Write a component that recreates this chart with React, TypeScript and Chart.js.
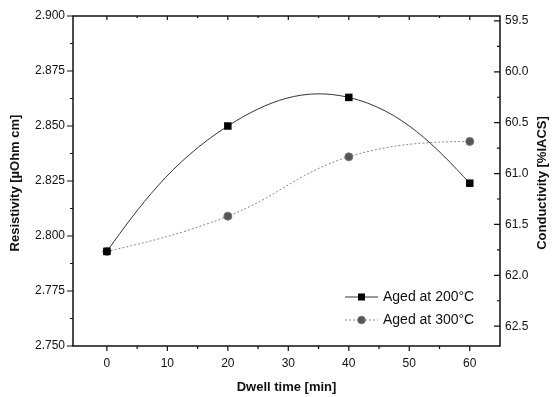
import React, { useEffect, useRef } from "react";
import { Chart, registerables } from "chart.js";

Chart.register(...registerables);

// ---- data ----
const dwellTimes = [0, 20, 40, 60];
const resistivity200 = [2.793, 2.85, 2.863, 2.824];
const resistivity300 = [2.793, 2.809, 2.836, 2.843];
const seriesLabels = ["Aged at 200°C", "Aged at 300°C"];

const xTicks = [0, 10, 20, 30, 40, 50, 60];
const xMinorTicks = [5, 15, 25, 35, 45, 55];
const resTicks = [2.75, 2.775, 2.8, 2.825, 2.85, 2.875, 2.9];
const resMinorTicks = [2.7625, 2.7875, 2.8125, 2.8375, 2.8625, 2.8875];
const condTicks = [59.5, 60.0, 60.5, 61.0, 61.5, 62.0, 62.5];
const condMinorTicks = [59.75, 60.25, 60.75, 61.25, 61.75, 62.25];

const xTitle = "Dwell time [min]";
const yTitle = "Resistivity [µOhm cm]";
const y2Title = "Conductivity [%IACS]";

const FONT = "Arial, 'Liberation Sans', sans-serif";

// make the spline ends "natural" (not flat) like the original plotting software
const splineEndsPlugin = {
  id: "splineEnds",
  beforeDatasetDraw(chart: any, args: any) {
    const meta = args.meta;
    const line = meta.dataset;
    if (!line || !meta.data || meta.data.length < 3) return;
    if (line.updateControlPoints) line.updateControlPoints(chart.chartArea, "x");
    if (line._endsFixed) return;
    const pts = meta.data;
    const p0 = pts[0];
    const p1 = pts[1];
    p0.cp2x = p0.x + 0.5 * (p1.cp1x - p0.x);
    p0.cp2y = p0.y + 0.5 * (p1.cp1y - p0.y);
    const n = pts.length - 1;
    const pn = pts[n];
    const pm = pts[n - 1];
    pn.cp1x = pn.x + 0.5 * (pm.cp2x - pn.x);
    pn.cp1y = pn.y + 0.5 * (pm.cp2y - pn.y);
    line._endsFixed = true;
  },
  afterUpdate(chart: any) {
    chart.data.datasets.forEach((_: any, i: number) => {
      const m = chart.getDatasetMeta(i);
      if (m.dataset) m.dataset._endsFixed = false;
    });
  },
};

const framePlugin = {
  id: "frame",
  afterDraw(chart: any) {
    const ctx = chart.ctx;
    const { left, right, top, bottom } = chart.chartArea;
    const xs = chart.scales.x;
    const ys = chart.scales.y;
    const y2s = chart.scales.y2;
    ctx.save();
    ctx.strokeStyle = "#111";
    ctx.lineWidth = 1.5;
    ctx.strokeRect(left, top, right - left, bottom - top);

    ctx.lineWidth = 1.2;
    ctx.beginPath();
    xTicks.forEach((v) => {
      const p = xs.getPixelForValue(v);
      ctx.moveTo(p, bottom);
      ctx.lineTo(p, bottom + 5);
      ctx.moveTo(p, top);
      ctx.lineTo(p, top + 4);
    });
    xMinorTicks.forEach((v) => {
      const p = xs.getPixelForValue(v);
      ctx.moveTo(p, bottom);
      ctx.lineTo(p, bottom + 3);
      ctx.moveTo(p, top);
      ctx.lineTo(p, top + 2);
    });
    resTicks.forEach((v) => {
      const p = ys.getPixelForValue(v);
      ctx.moveTo(left, p);
      ctx.lineTo(left - 6, p);
    });
    resMinorTicks.forEach((v) => {
      const p = ys.getPixelForValue(v);
      ctx.moveTo(left, p);
      ctx.lineTo(left - 3, p);
    });
    condTicks.forEach((v) => {
      const p = y2s.getPixelForValue(v);
      ctx.moveTo(right, p);
      ctx.lineTo(right - 6, p);
    });
    condMinorTicks.forEach((v) => {
      const p = y2s.getPixelForValue(v);
      ctx.moveTo(right, p);
      ctx.lineTo(right - 3, p);
    });
    ctx.stroke();

    ctx.fillStyle = "#111";
    ctx.font = `bold 13px ${FONT}`;
    ctx.textAlign = "center";
    ctx.textBaseline = "middle";
    ctx.fillText(xTitle, (left + right) / 2, 387);
    const midY = (top + bottom) / 2 + 2;
    ctx.save();
    ctx.translate(15, midY);
    ctx.rotate(-Math.PI / 2);
    ctx.fillText(yTitle, 0, 0);
    ctx.restore();
    ctx.save();
    ctx.translate(542, midY);
    ctx.rotate(-Math.PI / 2);
    ctx.fillText(y2Title, 0, 0);
    ctx.restore();

    const rows = [
      { label: seriesLabels[0], ds: chart.data.datasets[0], y: 297 },
      { label: seriesLabels[1], ds: chart.data.datasets[1], y: 320 },
    ];
    const lx0 = 345;
    const lx1 = 378;
    rows.forEach((r) => {
      ctx.save();
      ctx.strokeStyle = r.ds.borderColor;
      ctx.lineWidth = 1;
      ctx.setLineDash(r.ds.borderDash || []);
      ctx.beginPath();
      ctx.moveTo(lx0, r.y);
      ctx.lineTo(lx1, r.y);
      ctx.stroke();
      ctx.setLineDash([]);
      ctx.fillStyle = r.ds.pointBackgroundColor;
      ctx.strokeStyle = r.ds.pointBorderColor;
      const cx = (lx0 + lx1) / 2;
      if (r.ds.pointStyle === "rect") {
        ctx.fillRect(cx - 3.5, r.y - 3.5, 7, 7);
      } else {
        ctx.beginPath();
        ctx.arc(cx, r.y, 3.8, 0, Math.PI * 2);
        ctx.fill();
        ctx.stroke();
      }
      ctx.restore();
      ctx.fillStyle = "#111";
      ctx.font = `14px ${FONT}`;
      ctx.textAlign = "left";
      ctx.textBaseline = "middle";
      ctx.fillText(r.label, 383, r.y);
    });
    ctx.restore();
  },
};

export default function App() {
  const ref = useRef<HTMLCanvasElement | null>(null);

  useEffect(() => {
    if (!ref.current) return;
    const chart = new Chart(ref.current, {
      type: "line",
      data: {
        datasets: [
          {
            label: seriesLabels[0],
            data: dwellTimes.map((x, i) => ({ x, y: resistivity200[i] })),
            borderColor: "#333",
            borderWidth: 1,
            tension: 0.4,
            pointStyle: "rect",
            pointRadius: 5.3,
            pointBackgroundColor: "#000",
            pointBorderColor: "#000",
            pointBorderWidth: 0,
            fill: false,
          },
          {
            label: seriesLabels[1],
            data: dwellTimes.map((x, i) => ({ x, y: resistivity300[i] })),
            borderColor: "#888",
            borderWidth: 1,
            borderDash: [2, 2],
            tension: 0.4,
            pointStyle: "circle",
            pointRadius: 4,
            pointBackgroundColor: "#555",
            pointBorderColor: "#777",
            pointBorderWidth: 1,
            fill: false,
          },
        ] as any,
      },
      options: {
        animation: false,
        responsive: false,
        maintainAspectRatio: false,
        layout: { padding: { top: 16, left: 0, right: 0, bottom: 0 } },
        plugins: { legend: { display: false }, tooltip: { enabled: false } },
        scales: {
          x: {
            type: "linear",
            position: "bottom",
            min: -5.6,
            max: 65,
            grid: { display: false, drawTicks: false },
            border: { display: false },
            afterBuildTicks: (s: any) => {
              s.ticks = xTicks.map((v) => ({ value: v }));
            },
            afterFit: (s: any) => {
              s.height = 51;
            },
            ticks: {
              autoSkip: false,
              maxRotation: 0,
              padding: 10,
              color: "#111",
              font: { family: FONT, size: 12 },
              callback: (v: any) => String(v),
            },
          },
          y: {
            type: "linear",
            position: "left",
            min: 2.75,
            max: 2.9,
            grid: { display: false, drawTicks: false },
            border: { display: false },
            afterBuildTicks: (s: any) => {
              s.ticks = resTicks.map((v) => ({ value: v }));
            },
            afterFit: (s: any) => {
              s.width = 73;
            },
            ticks: {
              autoSkip: false,
              padding: 8,
              color: "#111",
              font: { family: FONT, size: 12 },
              callback: (v: any) => Number(v).toFixed(3),
            },
          },
          y2: {
            type: "linear",
            position: "right",
            min: 172.41 / 2.9,
            max: 172.41 / 2.75,
            reverse: true,
            grid: { display: false, drawTicks: false },
            border: { display: false },
            afterBuildTicks: (s: any) => {
              s.ticks = condTicks.map((v) => ({ value: v }));
            },
            afterFit: (s: any) => {
              s.width = 52;
            },
            ticks: {
              autoSkip: false,
              padding: 5,
              color: "#111",
              font: { family: FONT, size: 12 },
              callback: (v: any) => Number(v).toFixed(1),
            },
          },
        },
      } as any,
      plugins: [splineEndsPlugin, framePlugin],
    });
    return () => chart.destroy();
  }, []);

  return (
    <div style={{ position: "absolute", left: 0, top: 0, width: 552, height: 397, background: "#fff" }}>
      <canvas ref={ref} width={552} height={397} style={{ display: "block" }} />
    </div>
  );
}
